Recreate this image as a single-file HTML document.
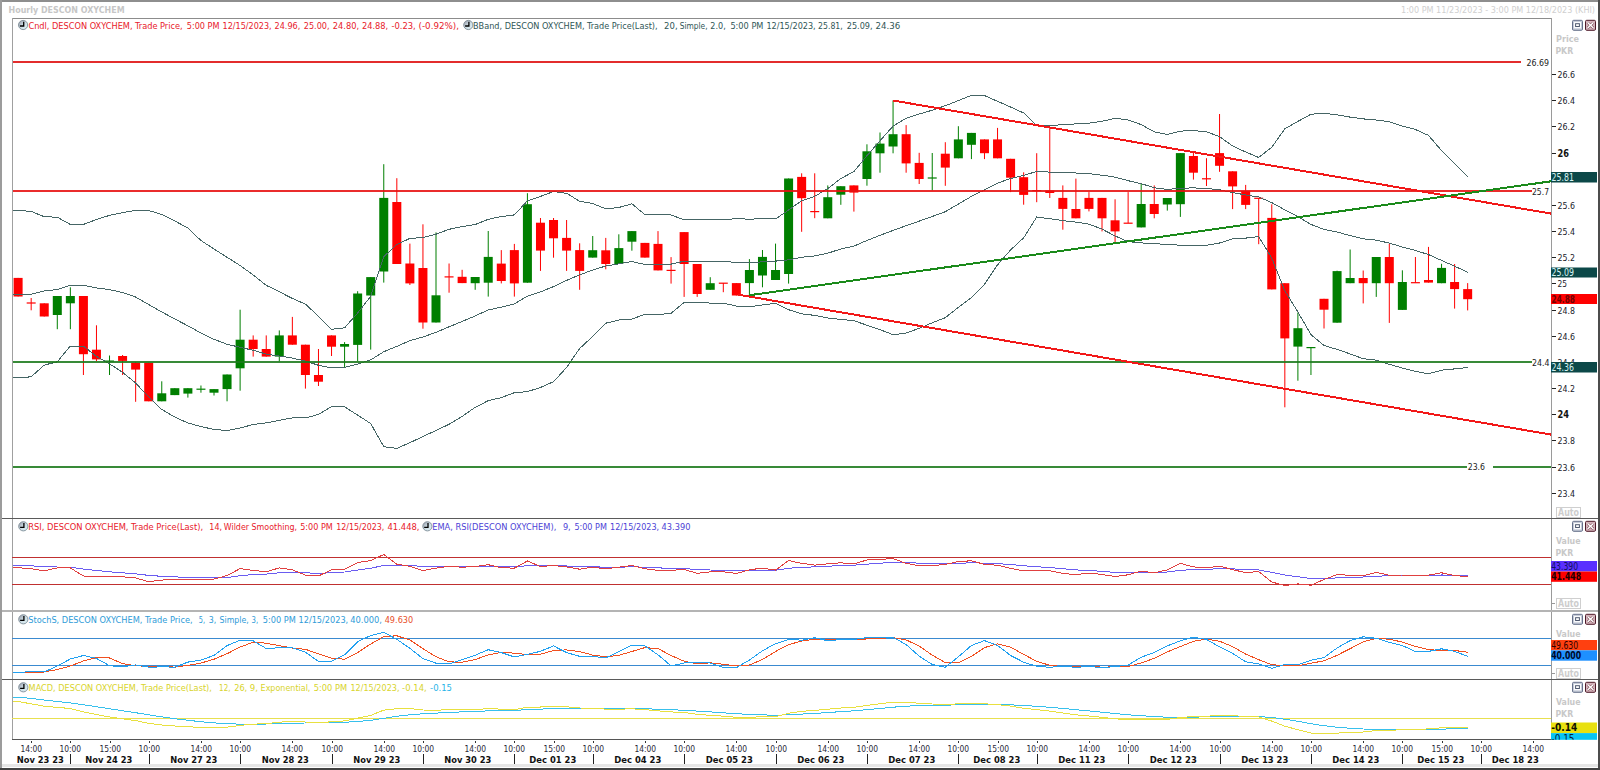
<!DOCTYPE html><html><head><meta charset="utf-8"><title>Hourly DESCON OXYCHEM</title>
<style>html,body{margin:0;padding:0;background:#fff;width:1600px;height:770px;overflow:hidden}svg{display:block}text{font-stretch:condensed;font-family:'DejaVu Sans Condensed', 'DejaVu Sans', 'Liberation Sans', sans-serif;white-space:pre}</style></head><body>
<svg width="1600" height="770" viewBox="0 0 1600 770">
<defs><linearGradient id="clk" x1="0" y1="0" x2="1" y2="1"><stop offset="0" stop-color="#8e8e9c"/><stop offset="0.45" stop-color="#c8d8e0"/><stop offset="1" stop-color="#e4f8fc"/></linearGradient><clipPath id="plot"><rect x="13" y="19" width="1538" height="499"/></clipPath><clipPath id="rsi"><rect x="13" y="519" width="1538" height="92"/></clipPath><clipPath id="sto"><rect x="13" y="612" width="1538" height="67"/></clipPath><clipPath id="mac"><rect x="13" y="680" width="1538" height="59"/></clipPath></defs>
<rect x="0" y="0" width="1600" height="770" fill="#fff"/>
<text x="8.6" y="13.4" font-size="9.2" fill="#c6c6c6" font-weight="bold" text-anchor="start" textLength="116" lengthAdjust="spacingAndGlyphs">Hourly DESCON OXYCHEM</text>
<text x="1401" y="13.4" font-size="8.9" fill="#cfcfcf" text-anchor="start" textLength="194" lengthAdjust="spacingAndGlyphs">1:00 PM 11/23/2023 - 3:00 PM 12/18/2023 (KHI)</text>
<g shape-rendering="crispEdges">
<rect x="12" y="18" width="1539" height="1" fill="#8c8c8c"/>
<rect x="12" y="18" width="1" height="722" fill="#a0a0a0"/>
<rect x="1551" y="18" width="1" height="722" fill="#9a9a9a"/>
<rect x="2" y="518" width="1596" height="1" fill="#5a5a5a"/>
<rect x="2" y="679" width="1596" height="1" fill="#5a5a5a"/>
<rect x="2" y="610" width="1596" height="2" fill="#b4b4b4"/>
<rect x="12" y="739" width="1540" height="1" fill="#555"/>
</g>
<g clip-path="url(#plot)">
<g>
<rect x="17.61" y="277.9" width="1" height="18.6" fill="#ff0000"/>
<rect x="13.61" y="277.9" width="9" height="18.6" fill="#ff0000"/>
<rect x="30.67" y="298.0" width="1" height="12.3" fill="#ff0000"/>
<rect x="26.67" y="302.4" width="9" height="1.2" fill="#ff0000"/>
<rect x="43.73" y="303.3" width="1" height="13.2" fill="#ff0000"/>
<rect x="39.73" y="303.3" width="9" height="13.2" fill="#ff0000"/>
<rect x="56.79" y="296.0" width="1" height="33.2" fill="#007f00"/>
<rect x="52.79" y="296.0" width="9" height="19.0" fill="#007f00"/>
<rect x="69.85" y="287.3" width="1" height="41.9" fill="#007f00"/>
<rect x="65.85" y="296.0" width="9" height="7.3" fill="#007f00"/>
<rect x="82.91" y="296.0" width="1" height="79.0" fill="#ff0000"/>
<rect x="78.91" y="296.0" width="9" height="58.2" fill="#ff0000"/>
<rect x="95.96" y="325.3" width="1" height="35.7" fill="#ff0000"/>
<rect x="91.96" y="349.7" width="9" height="9.7" fill="#ff0000"/>
<rect x="109.02" y="355.5" width="1" height="19.5" fill="#007f00"/>
<rect x="105.02" y="360.5" width="9" height="1.2" fill="#007f00"/>
<rect x="122.08" y="355.0" width="1" height="20.0" fill="#ff0000"/>
<rect x="118.08" y="356.0" width="9" height="4.9" fill="#ff0000"/>
<rect x="135.14" y="362.0" width="1" height="39.8" fill="#ff0000"/>
<rect x="131.14" y="362.7" width="9" height="6.9" fill="#ff0000"/>
<rect x="148.20" y="362.7" width="1" height="38.6" fill="#ff0000"/>
<rect x="144.20" y="362.7" width="9" height="38.6" fill="#ff0000"/>
<rect x="161.26" y="381.3" width="1" height="20.0" fill="#007f00"/>
<rect x="157.26" y="393.3" width="9" height="8.0" fill="#007f00"/>
<rect x="174.32" y="388.2" width="1" height="6.9" fill="#007f00"/>
<rect x="170.32" y="388.2" width="9" height="6.9" fill="#007f00"/>
<rect x="187.38" y="388.2" width="1" height="9.4" fill="#007f00"/>
<rect x="183.38" y="388.2" width="9" height="5.4" fill="#007f00"/>
<rect x="200.44" y="385.5" width="1" height="7.2" fill="#007f00"/>
<rect x="196.44" y="388.6" width="9" height="1.2" fill="#007f00"/>
<rect x="213.50" y="389.1" width="1" height="6.4" fill="#007f00"/>
<rect x="209.50" y="389.1" width="9" height="3.6" fill="#007f00"/>
<rect x="226.55" y="374.5" width="1" height="26.8" fill="#007f00"/>
<rect x="222.55" y="374.5" width="9" height="14.6" fill="#007f00"/>
<rect x="239.61" y="309.7" width="1" height="81.0" fill="#007f00"/>
<rect x="235.61" y="339.7" width="9" height="28.6" fill="#007f00"/>
<rect x="252.67" y="335.4" width="1" height="21.2" fill="#ff0000"/>
<rect x="248.67" y="339.7" width="9" height="9.3" fill="#ff0000"/>
<rect x="265.73" y="335.4" width="1" height="21.2" fill="#ff0000"/>
<rect x="261.73" y="349.0" width="9" height="7.6" fill="#ff0000"/>
<rect x="278.79" y="330.4" width="1" height="31.0" fill="#007f00"/>
<rect x="274.79" y="335.4" width="9" height="21.2" fill="#007f00"/>
<rect x="291.85" y="316.9" width="1" height="27.8" fill="#ff0000"/>
<rect x="287.85" y="335.4" width="9" height="9.3" fill="#ff0000"/>
<rect x="304.91" y="344.7" width="1" height="43.9" fill="#ff0000"/>
<rect x="300.91" y="344.7" width="9" height="30.3" fill="#ff0000"/>
<rect x="317.97" y="349.0" width="1" height="37.0" fill="#ff0000"/>
<rect x="313.97" y="375.0" width="9" height="6.7" fill="#ff0000"/>
<rect x="331.03" y="335.4" width="1" height="20.6" fill="#ff0000"/>
<rect x="327.03" y="335.4" width="9" height="11.3" fill="#ff0000"/>
<rect x="344.08" y="342.1" width="1" height="25.8" fill="#007f00"/>
<rect x="340.08" y="344.0" width="9" height="2.7" fill="#007f00"/>
<rect x="357.14" y="291.2" width="1" height="70.0" fill="#007f00"/>
<rect x="353.14" y="293.5" width="9" height="51.4" fill="#007f00"/>
<rect x="370.20" y="277.1" width="1" height="72.5" fill="#007f00"/>
<rect x="366.20" y="277.1" width="9" height="18.4" fill="#007f00"/>
<rect x="383.26" y="164.2" width="1" height="118.4" fill="#007f00"/>
<rect x="379.26" y="197.9" width="9" height="73.6" fill="#007f00"/>
<rect x="396.32" y="178.2" width="1" height="85.8" fill="#ff0000"/>
<rect x="392.32" y="202.0" width="9" height="62.0" fill="#ff0000"/>
<rect x="409.38" y="243.6" width="1" height="41.4" fill="#ff0000"/>
<rect x="405.38" y="263.5" width="9" height="19.9" fill="#ff0000"/>
<rect x="422.44" y="224.3" width="1" height="104.4" fill="#ff0000"/>
<rect x="418.44" y="268.0" width="9" height="54.5" fill="#ff0000"/>
<rect x="435.50" y="232.4" width="1" height="90.1" fill="#007f00"/>
<rect x="431.50" y="295.3" width="9" height="27.2" fill="#007f00"/>
<rect x="448.56" y="263.5" width="1" height="29.2" fill="#ff0000"/>
<rect x="444.56" y="276.3" width="9" height="1.2" fill="#ff0000"/>
<rect x="461.62" y="269.8" width="1" height="13.3" fill="#ff0000"/>
<rect x="457.62" y="276.8" width="9" height="6.3" fill="#ff0000"/>
<rect x="474.68" y="277.0" width="1" height="12.8" fill="#007f00"/>
<rect x="470.68" y="277.0" width="9" height="6.2" fill="#007f00"/>
<rect x="487.73" y="231.0" width="1" height="65.6" fill="#007f00"/>
<rect x="483.73" y="256.9" width="9" height="25.8" fill="#007f00"/>
<rect x="500.79" y="250.1" width="1" height="33.3" fill="#ff0000"/>
<rect x="496.79" y="263.6" width="9" height="17.4" fill="#ff0000"/>
<rect x="513.85" y="243.9" width="1" height="52.7" fill="#ff0000"/>
<rect x="509.85" y="250.1" width="9" height="33.3" fill="#ff0000"/>
<rect x="526.91" y="193.2" width="1" height="89.5" fill="#007f00"/>
<rect x="522.91" y="204.2" width="9" height="78.5" fill="#007f00"/>
<rect x="539.97" y="218.0" width="1" height="52.9" fill="#ff0000"/>
<rect x="535.97" y="222.7" width="9" height="27.9" fill="#ff0000"/>
<rect x="553.03" y="218.0" width="1" height="39.7" fill="#ff0000"/>
<rect x="549.03" y="220.0" width="9" height="18.3" fill="#ff0000"/>
<rect x="566.09" y="220.0" width="1" height="50.9" fill="#ff0000"/>
<rect x="562.09" y="237.9" width="9" height="12.7" fill="#ff0000"/>
<rect x="579.15" y="243.3" width="1" height="46.5" fill="#ff0000"/>
<rect x="575.15" y="250.1" width="9" height="20.8" fill="#ff0000"/>
<rect x="592.21" y="236.0" width="1" height="21.6" fill="#007f00"/>
<rect x="588.21" y="250.2" width="9" height="7.4" fill="#007f00"/>
<rect x="605.26" y="237.9" width="1" height="31.4" fill="#ff0000"/>
<rect x="601.26" y="250.3" width="9" height="13.7" fill="#ff0000"/>
<rect x="618.32" y="234.3" width="1" height="29.7" fill="#007f00"/>
<rect x="614.32" y="248.1" width="9" height="15.9" fill="#007f00"/>
<rect x="631.38" y="231.1" width="1" height="19.6" fill="#007f00"/>
<rect x="627.38" y="231.1" width="9" height="10.6" fill="#007f00"/>
<rect x="644.44" y="242.9" width="1" height="14.7" fill="#ff0000"/>
<rect x="640.44" y="242.9" width="9" height="14.7" fill="#ff0000"/>
<rect x="657.50" y="231.1" width="1" height="39.3" fill="#ff0000"/>
<rect x="653.50" y="243.9" width="9" height="26.5" fill="#ff0000"/>
<rect x="670.56" y="257.1" width="1" height="26.5" fill="#ff0000"/>
<rect x="666.56" y="269.8" width="9" height="1.2" fill="#ff0000"/>
<rect x="683.62" y="232.1" width="1" height="64.8" fill="#ff0000"/>
<rect x="679.62" y="232.1" width="9" height="31.9" fill="#ff0000"/>
<rect x="696.68" y="264.0" width="1" height="32.9" fill="#ff0000"/>
<rect x="692.68" y="264.0" width="9" height="30.0" fill="#ff0000"/>
<rect x="709.74" y="277.2" width="1" height="12.6" fill="#007f00"/>
<rect x="705.74" y="283.2" width="9" height="6.6" fill="#007f00"/>
<rect x="722.80" y="283.1" width="1" height="9.1" fill="#ff0000"/>
<rect x="718.80" y="282.6" width="9" height="1.2" fill="#ff0000"/>
<rect x="735.86" y="283.1" width="1" height="12.4" fill="#ff0000"/>
<rect x="731.86" y="283.1" width="9" height="12.4" fill="#ff0000"/>
<rect x="748.91" y="259.1" width="1" height="36.4" fill="#007f00"/>
<rect x="744.91" y="270.0" width="9" height="13.1" fill="#007f00"/>
<rect x="761.97" y="250.0" width="1" height="37.3" fill="#007f00"/>
<rect x="757.97" y="256.9" width="9" height="18.6" fill="#007f00"/>
<rect x="775.03" y="243.6" width="1" height="36.4" fill="#007f00"/>
<rect x="771.03" y="270.0" width="9" height="10.0" fill="#007f00"/>
<rect x="788.09" y="178.5" width="1" height="105.1" fill="#007f00"/>
<rect x="784.09" y="178.5" width="9" height="95.5" fill="#007f00"/>
<rect x="801.15" y="173.3" width="1" height="58.5" fill="#ff0000"/>
<rect x="797.15" y="176.9" width="9" height="21.3" fill="#ff0000"/>
<rect x="814.21" y="173.3" width="1" height="44.9" fill="#ff0000"/>
<rect x="810.21" y="211.0" width="9" height="1.2" fill="#ff0000"/>
<rect x="827.27" y="185.4" width="1" height="32.9" fill="#007f00"/>
<rect x="823.27" y="197.2" width="9" height="21.1" fill="#007f00"/>
<rect x="840.33" y="186.2" width="1" height="18.6" fill="#007f00"/>
<rect x="836.33" y="186.2" width="9" height="8.5" fill="#007f00"/>
<rect x="853.39" y="185.4" width="1" height="26.2" fill="#ff0000"/>
<rect x="849.39" y="185.4" width="9" height="7.2" fill="#ff0000"/>
<rect x="866.44" y="144.3" width="1" height="41.4" fill="#007f00"/>
<rect x="862.44" y="151.3" width="9" height="27.7" fill="#007f00"/>
<rect x="879.50" y="132.5" width="1" height="40.2" fill="#007f00"/>
<rect x="875.50" y="143.6" width="9" height="9.7" fill="#007f00"/>
<rect x="892.56" y="100.4" width="1" height="52.9" fill="#007f00"/>
<rect x="888.56" y="134.2" width="9" height="12.3" fill="#007f00"/>
<rect x="905.62" y="125.1" width="1" height="47.6" fill="#ff0000"/>
<rect x="901.62" y="134.2" width="9" height="29.2" fill="#ff0000"/>
<rect x="918.68" y="152.8" width="1" height="31.2" fill="#ff0000"/>
<rect x="914.68" y="162.9" width="9" height="16.1" fill="#ff0000"/>
<rect x="931.74" y="153.0" width="1" height="37.4" fill="#007f00"/>
<rect x="927.74" y="177.4" width="9" height="1.2" fill="#007f00"/>
<rect x="944.80" y="142.2" width="1" height="43.6" fill="#ff0000"/>
<rect x="940.80" y="153.7" width="9" height="13.9" fill="#ff0000"/>
<rect x="957.86" y="126.2" width="1" height="32.1" fill="#007f00"/>
<rect x="953.86" y="139.4" width="9" height="18.9" fill="#007f00"/>
<rect x="970.92" y="132.9" width="1" height="26.2" fill="#007f00"/>
<rect x="966.92" y="132.9" width="9" height="11.9" fill="#007f00"/>
<rect x="983.98" y="139.4" width="1" height="19.7" fill="#ff0000"/>
<rect x="979.98" y="139.4" width="9" height="13.8" fill="#ff0000"/>
<rect x="997.03" y="127.9" width="1" height="30.4" fill="#ff0000"/>
<rect x="993.03" y="139.4" width="9" height="18.9" fill="#ff0000"/>
<rect x="1010.09" y="158.8" width="1" height="33.3" fill="#ff0000"/>
<rect x="1006.09" y="158.8" width="9" height="18.9" fill="#ff0000"/>
<rect x="1023.15" y="172.3" width="1" height="32.4" fill="#ff0000"/>
<rect x="1019.15" y="177.2" width="9" height="17.7" fill="#ff0000"/>
<rect x="1036.21" y="153.2" width="1" height="49.0" fill="#ff0000"/>
<rect x="1032.21" y="190.0" width="9" height="1.2" fill="#ff0000"/>
<rect x="1049.27" y="127.9" width="1" height="70.1" fill="#ff0000"/>
<rect x="1045.27" y="190.5" width="9" height="2.5" fill="#ff0000"/>
<rect x="1062.33" y="185.4" width="1" height="44.3" fill="#ff0000"/>
<rect x="1058.33" y="197.9" width="9" height="11.0" fill="#ff0000"/>
<rect x="1075.39" y="178.6" width="1" height="39.7" fill="#ff0000"/>
<rect x="1071.39" y="209.0" width="9" height="9.3" fill="#ff0000"/>
<rect x="1088.45" y="192.1" width="1" height="19.3" fill="#ff0000"/>
<rect x="1084.45" y="197.9" width="9" height="11.0" fill="#ff0000"/>
<rect x="1101.51" y="197.9" width="1" height="33.5" fill="#ff0000"/>
<rect x="1097.51" y="197.9" width="9" height="20.4" fill="#ff0000"/>
<rect x="1114.57" y="199.3" width="1" height="43.6" fill="#ff0000"/>
<rect x="1110.57" y="220.3" width="9" height="11.1" fill="#ff0000"/>
<rect x="1127.62" y="192.1" width="1" height="31.0" fill="#ff0000"/>
<rect x="1123.62" y="222.6" width="9" height="1.2" fill="#ff0000"/>
<rect x="1140.68" y="183.6" width="1" height="43.8" fill="#007f00"/>
<rect x="1136.68" y="204.0" width="9" height="23.4" fill="#007f00"/>
<rect x="1153.74" y="185.4" width="1" height="32.9" fill="#ff0000"/>
<rect x="1149.74" y="204.0" width="9" height="10.0" fill="#ff0000"/>
<rect x="1166.80" y="198.0" width="1" height="12.6" fill="#007f00"/>
<rect x="1162.80" y="198.0" width="9" height="6.5" fill="#007f00"/>
<rect x="1179.86" y="153.1" width="1" height="63.8" fill="#007f00"/>
<rect x="1175.86" y="153.1" width="9" height="51.1" fill="#007f00"/>
<rect x="1192.92" y="152.7" width="1" height="26.9" fill="#ff0000"/>
<rect x="1188.92" y="156.0" width="9" height="16.7" fill="#ff0000"/>
<rect x="1205.98" y="158.2" width="1" height="27.8" fill="#ff0000"/>
<rect x="1201.98" y="178.2" width="9" height="1.2" fill="#ff0000"/>
<rect x="1219.04" y="114.0" width="1" height="57.8" fill="#ff0000"/>
<rect x="1215.04" y="153.1" width="9" height="12.7" fill="#ff0000"/>
<rect x="1232.10" y="171.3" width="1" height="37.8" fill="#ff0000"/>
<rect x="1228.10" y="171.3" width="9" height="15.1" fill="#ff0000"/>
<rect x="1245.16" y="184.9" width="1" height="24.2" fill="#ff0000"/>
<rect x="1241.16" y="190.9" width="9" height="14.0" fill="#ff0000"/>
<rect x="1258.21" y="198.2" width="1" height="46.0" fill="#ff0000"/>
<rect x="1254.21" y="197.7" width="9" height="1.2" fill="#ff0000"/>
<rect x="1271.27" y="204.3" width="1" height="85.1" fill="#ff0000"/>
<rect x="1267.27" y="217.9" width="9" height="71.5" fill="#ff0000"/>
<rect x="1284.33" y="283.2" width="1" height="124.1" fill="#ff0000"/>
<rect x="1280.33" y="283.2" width="9" height="55.2" fill="#ff0000"/>
<rect x="1297.39" y="312.5" width="1" height="68.2" fill="#007f00"/>
<rect x="1293.39" y="328.2" width="9" height="18.4" fill="#007f00"/>
<rect x="1310.45" y="347.5" width="1" height="27.5" fill="#007f00"/>
<rect x="1306.45" y="347.0" width="9" height="1.2" fill="#007f00"/>
<rect x="1323.51" y="298.8" width="1" height="29.7" fill="#ff0000"/>
<rect x="1319.51" y="298.8" width="9" height="10.9" fill="#ff0000"/>
<rect x="1336.57" y="270.7" width="1" height="52.0" fill="#007f00"/>
<rect x="1332.57" y="271.1" width="9" height="51.6" fill="#007f00"/>
<rect x="1349.63" y="249.5" width="1" height="33.7" fill="#007f00"/>
<rect x="1345.63" y="278.0" width="9" height="5.2" fill="#007f00"/>
<rect x="1362.69" y="270.5" width="1" height="32.9" fill="#ff0000"/>
<rect x="1358.69" y="278.0" width="9" height="5.2" fill="#ff0000"/>
<rect x="1375.75" y="257.0" width="1" height="39.9" fill="#007f00"/>
<rect x="1371.75" y="257.0" width="9" height="26.2" fill="#007f00"/>
<rect x="1388.80" y="243.6" width="1" height="79.3" fill="#ff0000"/>
<rect x="1384.80" y="257.0" width="9" height="26.2" fill="#ff0000"/>
<rect x="1401.86" y="270.3" width="1" height="39.6" fill="#007f00"/>
<rect x="1397.86" y="282.0" width="9" height="27.9" fill="#007f00"/>
<rect x="1414.92" y="257.0" width="1" height="25.6" fill="#ff0000"/>
<rect x="1410.92" y="282.1" width="9" height="1.2" fill="#ff0000"/>
<rect x="1427.98" y="246.9" width="1" height="35.7" fill="#ff0000"/>
<rect x="1423.98" y="280.0" width="9" height="2.6" fill="#ff0000"/>
<rect x="1441.04" y="263.8" width="1" height="19.4" fill="#007f00"/>
<rect x="1437.04" y="267.9" width="9" height="15.3" fill="#007f00"/>
<rect x="1454.10" y="264.0" width="1" height="44.6" fill="#ff0000"/>
<rect x="1450.10" y="282.0" width="9" height="7.1" fill="#ff0000"/>
<rect x="1467.16" y="283.1" width="1" height="27.3" fill="#ff0000"/>
<rect x="1463.16" y="289.1" width="9" height="10.1" fill="#ff0000"/>
</g>
<g><polyline points="12.0,210.4 18.1,210.4 31.2,211.4 44.2,216.7 57.3,217.2 70.3,224.4 83.4,224.4 96.5,219.5 109.5,215.4 122.6,212.6 135.6,210.3 148.7,210.5 161.8,214.5 174.8,221.0 187.9,228.0 200.9,240.5 214.0,249.0 227.1,257.3 240.1,265.5 253.2,275.0 266.2,285.3 279.3,291.8 292.3,298.4 305.4,304.1 318.5,316.3 331.5,329.3 344.6,327.8 357.6,313.1 370.7,296.3 383.8,256.7 396.8,244.5 409.9,238.4 422.9,237.5 436.0,234.2 449.1,229.3 462.1,226.6 475.2,224.5 488.2,219.3 501.3,216.6 514.4,214.9 527.4,200.8 540.5,196.4 553.5,191.5 566.6,193.3 579.6,201.2 592.7,203.5 605.8,208.8 618.8,207.5 631.9,203.8 644.9,214.7 658.0,214.9 671.1,214.9 684.1,219.9 697.2,220.0 710.2,219.8 723.3,219.8 736.4,218.6 749.4,219.2 762.5,218.7 775.5,219.0 788.6,210.0 801.6,200.7 814.7,196.4 827.8,188.5 840.8,178.6 853.9,171.5 866.9,155.8 880.0,140.8 893.1,126.1 906.1,118.3 919.2,114.0 932.2,110.2 945.3,105.7 958.4,100.6 971.4,95.4 984.5,95.6 997.5,101.3 1010.6,107.0 1023.7,113.0 1036.7,125.8 1049.8,125.6 1062.8,124.7 1075.9,123.9 1088.9,123.1 1102.0,121.3 1115.1,118.3 1128.1,119.9 1141.2,124.6 1154.2,131.8 1167.3,134.5 1180.4,131.1 1193.4,130.6 1206.5,131.8 1219.5,136.6 1232.6,146.0 1245.7,152.0 1258.7,157.5 1271.8,147.2 1284.8,128.9 1297.9,121.4 1311.0,114.2 1324.0,113.4 1337.1,114.8 1350.1,117.1 1363.2,118.9 1376.2,120.0 1389.3,121.8 1402.4,126.0 1415.4,129.5 1428.5,135.4 1441.5,150.6 1454.6,163.5 1467.7,176.9" fill="none" stroke="#456565" stroke-width="1" shape-rendering="crispEdges"/><polyline points="12.0,294.1 18.1,294.1 31.2,294.1 44.2,290.9 57.3,289.5 70.3,285.2 83.4,285.2 96.5,288.0 109.5,289.6 122.6,292.5 135.6,297.0 148.7,304.5 161.8,312.0 174.8,319.0 187.9,325.8 200.9,333.0 214.0,339.3 227.1,344.3 240.1,347.3 253.2,350.3 266.2,354.1 279.3,356.0 292.3,358.1 305.4,361.1 318.5,365.3 331.5,367.9 344.6,367.4 357.6,364.1 370.7,359.9 383.8,351.7 396.8,346.4 409.9,340.6 422.9,337.0 436.0,332.4 449.1,326.8 462.1,321.5 475.2,315.9 488.2,310.0 501.3,307.1 514.4,303.8 527.4,296.2 540.5,291.9 553.5,286.6 566.6,280.4 579.6,274.9 592.7,270.0 605.8,266.0 618.8,263.8 631.9,261.5 644.9,264.5 658.0,264.8 671.1,264.1 684.1,261.2 697.2,261.1 710.2,261.4 723.3,261.4 736.4,262.4 749.4,263.0 762.5,261.8 775.5,261.1 788.6,259.9 801.6,257.2 814.7,255.9 827.8,253.2 840.8,249.0 853.9,246.1 866.9,240.5 880.0,235.3 893.1,230.4 906.1,225.7 919.2,221.1 932.2,216.5 945.3,211.7 958.4,204.0 971.4,196.4 984.5,190.0 997.5,183.1 1010.6,178.5 1023.7,175.4 1036.7,171.4 1049.8,172.1 1062.8,172.7 1075.9,173.0 1088.9,173.6 1102.0,175.2 1115.1,177.1 1128.1,180.7 1141.2,183.7 1154.2,187.7 1167.3,189.5 1180.4,188.2 1193.4,187.9 1206.5,188.5 1219.5,189.8 1232.6,192.5 1245.7,195.0 1258.7,197.0 1271.8,202.6 1284.8,209.8 1297.9,216.7 1311.0,224.4 1324.0,229.4 1337.1,232.1 1350.1,235.5 1363.2,238.8 1376.2,240.1 1389.3,243.1 1402.4,247.0 1415.4,250.4 1428.5,254.6 1441.5,260.4 1454.6,266.2 1467.7,272.2" fill="none" stroke="#456565" stroke-width="1" shape-rendering="crispEdges"/><polyline points="12.0,377.8 18.1,377.8 31.2,376.8 44.2,365.1 57.3,361.8 70.3,346.0 83.4,346.0 96.5,356.5 109.5,363.8 122.6,372.4 135.6,383.0 148.7,397.0 161.8,409.5 174.8,417.0 187.9,423.0 200.9,426.5 214.0,429.5 227.1,430.5 240.1,428.0 253.2,424.5 266.2,422.9 279.3,420.3 292.3,417.9 305.4,418.0 318.5,414.4 331.5,406.5 344.6,406.9 357.6,415.1 370.7,423.5 383.8,446.7 396.8,448.4 409.9,442.7 422.9,436.5 436.0,430.5 449.1,424.3 462.1,416.4 475.2,407.3 488.2,400.7 501.3,397.6 514.4,392.7 527.4,391.6 540.5,387.5 553.5,381.7 566.6,367.5 579.6,348.5 592.7,336.5 605.8,323.2 618.8,320.0 631.9,319.1 644.9,314.2 658.0,314.6 671.1,313.3 684.1,302.5 697.2,302.2 710.2,303.1 723.3,303.1 736.4,306.1 749.4,306.8 762.5,304.9 775.5,303.3 788.6,309.7 801.6,313.8 814.7,315.4 827.8,318.0 840.8,319.4 853.9,320.7 866.9,325.2 880.0,329.7 893.1,334.7 906.1,333.1 919.2,328.3 932.2,322.8 945.3,317.7 958.4,307.3 971.4,297.5 984.5,284.4 997.5,264.9 1010.6,249.9 1023.7,237.8 1036.7,217.0 1049.8,218.7 1062.8,220.6 1075.9,222.1 1088.9,224.1 1102.0,229.1 1115.1,236.0 1128.1,241.6 1141.2,242.9 1154.2,243.7 1167.3,244.4 1180.4,245.2 1193.4,245.2 1206.5,245.2 1219.5,243.0 1232.6,238.9 1245.7,238.1 1258.7,236.6 1271.8,258.1 1284.8,290.7 1297.9,312.0 1311.0,334.7 1324.0,345.5 1337.1,349.4 1350.1,353.9 1363.2,358.7 1376.2,360.2 1389.3,364.3 1402.4,368.0 1415.4,371.3 1428.5,373.8 1441.5,370.2 1454.6,368.9 1467.7,367.5" fill="none" stroke="#456565" stroke-width="1" shape-rendering="crispEdges"/></g>
<g shape-rendering="crispEdges" opacity="0.88">
<rect x="12" y="60.5" width="1509" height="2" fill="#e01010"/>
<rect x="12" y="190" width="1520" height="2" fill="#e81010"/>
<rect x="12" y="361" width="1520" height="2" fill="#1d7a1d"/>
<rect x="12" y="465.5" width="1455" height="2" fill="#1d7a1d"/>
<rect x="1493" y="465.5" width="58" height="2" fill="#1d7a1d"/>
</g>
<g shape-rendering="crispEdges">
<line x1="893" y1="100.5" x2="1551" y2="213.6" stroke="#f21818" stroke-width="2"/>
<line x1="738" y1="294.6" x2="1551" y2="434.6" stroke="#f21818" stroke-width="2"/>
<line x1="749" y1="295.3" x2="1551" y2="181.3" stroke="#1a8a1a" stroke-width="2"/>
</g>
</g>
<text x="1526.5" y="65.6" font-size="9.5" fill="#1a1a1a" text-anchor="start" textLength="22.5" lengthAdjust="spacingAndGlyphs">26.69</text>
<text x="1532" y="195" font-size="9.5" fill="#1a1a1a" text-anchor="start" textLength="17" lengthAdjust="spacingAndGlyphs">25.7</text>
<text x="1532" y="365.8" font-size="9.5" fill="#1a1a1a" text-anchor="start" textLength="17.5" lengthAdjust="spacingAndGlyphs">24.4</text>
<text x="1467.7" y="470.2" font-size="9.5" fill="#1a1a1a" text-anchor="start" textLength="17.3" lengthAdjust="spacingAndGlyphs">23.6</text>
<g><circle cx="23.099999999999998" cy="25" r="4.6" fill="url(#clk)" stroke="#7d8c96" stroke-width="0.9"/><path d="M23.7 21.8V26H19.9" stroke="#000" stroke-width="1.3" fill="none"/></g>
<text x="28.4" y="28.8" font-size="9.4" fill="#e8202a" text-anchor="start" textLength="154.3" lengthAdjust="spacingAndGlyphs">Cndl, DESCON OXYCHEM, Trade Price,</text>
<text x="186.8" y="28.8" font-size="9.4" fill="#e8202a" text-anchor="start" textLength="32.7" lengthAdjust="spacingAndGlyphs">5:00 PM</text>
<text x="222.6" y="28.8" font-size="9.4" fill="#e8202a" text-anchor="start" textLength="49.0" lengthAdjust="spacingAndGlyphs">12/15/2023,</text>
<text x="274.6" y="28.8" font-size="9.4" fill="#e8202a" text-anchor="start" textLength="25.7" lengthAdjust="spacingAndGlyphs">24.96,</text>
<text x="303.8" y="28.8" font-size="9.4" fill="#e8202a" text-anchor="start" textLength="25.8" lengthAdjust="spacingAndGlyphs">25.00,</text>
<text x="332.8" y="28.8" font-size="9.4" fill="#e8202a" text-anchor="start" textLength="26.3" lengthAdjust="spacingAndGlyphs">24.80,</text>
<text x="361.9" y="28.8" font-size="9.4" fill="#e8202a" text-anchor="start" textLength="26.3" lengthAdjust="spacingAndGlyphs">24.88,</text>
<text x="391.4" y="28.8" font-size="9.4" fill="#e8202a" text-anchor="start" textLength="24.4" lengthAdjust="spacingAndGlyphs">-0.23,</text>
<text x="418.6" y="28.8" font-size="9.4" fill="#e8202a" text-anchor="start" textLength="40.3" lengthAdjust="spacingAndGlyphs">(-0.92%),</text>
<g><circle cx="468.29999999999995" cy="25" r="4.6" fill="url(#clk)" stroke="#7d8c96" stroke-width="0.9"/><path d="M468.9 21.8V26H465.09999999999997" stroke="#000" stroke-width="1.3" fill="none"/></g>
<text x="473.0" y="28.8" font-size="9.4" fill="#2f5656" text-anchor="start" textLength="184.6" lengthAdjust="spacingAndGlyphs">BBand, DESCON OXYCHEM, Trade Price(Last),</text>
<text x="664.1" y="28.8" font-size="9.4" fill="#2f5656" text-anchor="start" textLength="13.5" lengthAdjust="spacingAndGlyphs">20,</text>
<text x="679.7" y="28.8" font-size="9.4" fill="#2f5656" text-anchor="start" textLength="27.9" lengthAdjust="spacingAndGlyphs">Simple,</text>
<text x="710.3" y="28.8" font-size="9.4" fill="#2f5656" text-anchor="start" textLength="15.4" lengthAdjust="spacingAndGlyphs">2.0,</text>
<text x="730.4" y="28.8" font-size="9.4" fill="#2f5656" text-anchor="start" textLength="33.0" lengthAdjust="spacingAndGlyphs">5:00 PM</text>
<text x="766.4" y="28.8" font-size="9.4" fill="#2f5656" text-anchor="start" textLength="49.3" lengthAdjust="spacingAndGlyphs">12/15/2023,</text>
<text x="818.1" y="28.8" font-size="9.4" fill="#2f5656" text-anchor="start" textLength="24.6" lengthAdjust="spacingAndGlyphs">25.81,</text>
<text x="846.8" y="28.8" font-size="9.4" fill="#2f5656" text-anchor="start" textLength="25.8" lengthAdjust="spacingAndGlyphs">25.09,</text>
<text x="875.5" y="28.8" font-size="9.4" fill="#2f5656" text-anchor="start" textLength="24.7" lengthAdjust="spacingAndGlyphs">24.36</text>
<g shape-rendering="crispEdges">
<rect x="1552" y="74" width="4" height="1" fill="#222"/>
<rect x="1552" y="100" width="4" height="1" fill="#222"/>
<rect x="1552" y="126" width="4" height="1" fill="#222"/>
<rect x="1552" y="153" width="4" height="1" fill="#222"/>
<rect x="1552" y="179" width="4" height="1" fill="#222"/>
<rect x="1552" y="205" width="4" height="1" fill="#222"/>
<rect x="1552" y="231" width="4" height="1" fill="#222"/>
<rect x="1552" y="257" width="4" height="1" fill="#222"/>
<rect x="1552" y="283" width="4" height="1" fill="#222"/>
<rect x="1552" y="310" width="4" height="1" fill="#222"/>
<rect x="1552" y="336" width="4" height="1" fill="#222"/>
<rect x="1552" y="362" width="4" height="1" fill="#222"/>
<rect x="1552" y="388" width="4" height="1" fill="#222"/>
<rect x="1552" y="414" width="4" height="1" fill="#222"/>
<rect x="1552" y="440" width="4" height="1" fill="#222"/>
<rect x="1552" y="467" width="4" height="1" fill="#222"/>
<rect x="1552" y="493" width="4" height="1" fill="#222"/>
</g>
<text x="1557.5" y="78" font-size="9.5" fill="#1a1a2a" text-anchor="start" textLength="17.5" lengthAdjust="spacingAndGlyphs">26.6</text>
<text x="1557.5" y="104" font-size="9.5" fill="#1a1a2a" text-anchor="start" textLength="17.5" lengthAdjust="spacingAndGlyphs">26.4</text>
<text x="1557.5" y="130" font-size="9.5" fill="#1a1a2a" text-anchor="start" textLength="17.5" lengthAdjust="spacingAndGlyphs">26.2</text>
<text x="1557.5" y="157.3" font-size="10" fill="#111" font-weight="bold" text-anchor="start" textLength="11.5" lengthAdjust="spacingAndGlyphs">26</text>
<text x="1557.5" y="209" font-size="9.5" fill="#1a1a2a" text-anchor="start" textLength="17.5" lengthAdjust="spacingAndGlyphs">25.6</text>
<text x="1557.5" y="235" font-size="9.5" fill="#1a1a2a" text-anchor="start" textLength="17.5" lengthAdjust="spacingAndGlyphs">25.4</text>
<text x="1557.5" y="261" font-size="9.5" fill="#1a1a2a" text-anchor="start" textLength="17.5" lengthAdjust="spacingAndGlyphs">25.2</text>
<text x="1557.5" y="287" font-size="9.5" fill="#1a1a2a" text-anchor="start" textLength="9.5" lengthAdjust="spacingAndGlyphs">25</text>
<text x="1557.5" y="314" font-size="9.5" fill="#1a1a2a" text-anchor="start" textLength="17.5" lengthAdjust="spacingAndGlyphs">24.8</text>
<text x="1557.5" y="340" font-size="9.5" fill="#1a1a2a" text-anchor="start" textLength="17.5" lengthAdjust="spacingAndGlyphs">24.6</text>
<text x="1557.5" y="366" font-size="9.5" fill="#1a1a2a" text-anchor="start" textLength="17.5" lengthAdjust="spacingAndGlyphs">24.4</text>
<text x="1557.5" y="392" font-size="9.5" fill="#1a1a2a" text-anchor="start" textLength="17.5" lengthAdjust="spacingAndGlyphs">24.2</text>
<text x="1557.5" y="418.3" font-size="10" fill="#111" font-weight="bold" text-anchor="start" textLength="11.5" lengthAdjust="spacingAndGlyphs">24</text>
<text x="1557.5" y="444" font-size="9.5" fill="#1a1a2a" text-anchor="start" textLength="17.5" lengthAdjust="spacingAndGlyphs">23.8</text>
<text x="1557.5" y="471" font-size="9.5" fill="#1a1a2a" text-anchor="start" textLength="17.5" lengthAdjust="spacingAndGlyphs">23.6</text>
<text x="1557.5" y="497" font-size="9.5" fill="#1a1a2a" text-anchor="start" textLength="17.5" lengthAdjust="spacingAndGlyphs">23.4</text>
<text x="1556" y="41.7" font-size="9.2" fill="#c8c8c8" font-weight="bold" text-anchor="start" textLength="23" lengthAdjust="spacingAndGlyphs">Price</text>
<text x="1555.4" y="54.3" font-size="9.2" fill="#c8c8c8" font-weight="bold" text-anchor="start" textLength="17.8" lengthAdjust="spacingAndGlyphs">PKR</text>
<rect x="1551" y="172" width="46" height="10.5" fill="#0c4848"/>
<text x="1551.5" y="181.1" font-size="10" fill="#d8f4f4" text-anchor="start" textLength="22.5" lengthAdjust="spacingAndGlyphs">25.81</text>
<rect x="1551" y="267.5" width="46" height="10.0" fill="#0c4848"/>
<text x="1551.5" y="276.1" font-size="10" fill="#d8f4f4" text-anchor="start" textLength="22.5" lengthAdjust="spacingAndGlyphs">25.09</text>
<rect x="1551" y="294" width="46" height="10" fill="#ff0000"/>
<text x="1551.5" y="302.6" font-size="10" fill="#700000" font-weight="bold" text-anchor="start" textLength="23.5" lengthAdjust="spacingAndGlyphs">24.88</text>
<rect x="1551" y="362" width="46" height="10.5" fill="#0c4848"/>
<text x="1551.5" y="371.1" font-size="10" fill="#d8f4f4" text-anchor="start" textLength="22.5" lengthAdjust="spacingAndGlyphs">24.36</text>
<rect x="1556.5" y="507.5" width="24" height="10" fill="#fff" stroke="#cfcfcf" stroke-width="1"/>
<text x="1558" y="516" font-size="10" fill="#cdcdcd" font-weight="bold" text-anchor="start" textLength="21" lengthAdjust="spacingAndGlyphs">Auto</text>
<rect x="1572.5" y="20.3" width="10" height="10" rx="1.2" fill="#c6ccd8" stroke="#66708a" stroke-width="1"/>
<rect x="1574" y="22.0" width="7" height="6.3" fill="#fbfbfd"/>
<rect x="1575.6" y="23.7" width="3.8" height="2.8" fill="#fff" stroke="#505a70" stroke-width="1"/>
<rect x="1585.5" y="20.3" width="10" height="10" rx="1.2" fill="#d4b2ba" stroke="#4e1a28" stroke-width="1"/>
<path d="M1587.6 22.6L1593.4 28.0M1593.4 22.6L1587.6 28.0" stroke="#7a4a55" stroke-width="2.4"/>
<path d="M1587.6 22.6L1593.4 28.0M1593.4 22.6L1587.6 28.0" stroke="#fff" stroke-width="1.4"/>
<g shape-rendering="crispEdges">
<rect x="12" y="557" width="1539" height="1" fill="#c03030"/>
<rect x="12" y="584" width="1539" height="1" fill="#c03030"/>
</g>
<g clip-path="url(#rsi)"><polyline points="12.0,565.0 18.1,565.0 31.2,565.8 44.2,566.8 57.3,567.0 70.3,567.2 83.4,569.0 96.5,570.5 109.5,571.8 122.6,572.8 135.6,573.8 148.7,575.4 161.8,576.3 174.8,576.9 187.9,577.3 200.9,577.7 214.0,578.0 227.1,577.5 240.1,575.7 253.2,574.6 266.2,574.1 279.3,572.8 292.3,572.2 305.4,572.8 318.5,573.4 331.5,572.7 344.6,572.0 357.6,570.1 370.7,568.2 383.8,565.5 396.8,565.2 409.9,565.4 422.9,566.5 436.0,566.8 449.1,566.7 462.1,566.8 475.2,566.8 488.2,566.3 501.3,566.6 514.4,566.9 527.4,565.7 540.5,565.9 553.5,565.8 566.6,566.0 579.6,566.7 592.7,566.8 605.8,567.2 618.8,567.2 631.9,566.8 644.9,567.2 658.0,567.9 671.1,568.3 684.1,568.6 697.2,569.5 710.2,570.0 723.3,570.4 736.4,571.0 749.4,570.8 762.5,570.2 775.5,570.2 788.6,568.3 801.6,567.3 814.7,566.9 827.8,566.2 840.8,565.6 853.9,565.2 866.9,564.2 880.0,563.2 893.1,562.3 906.1,562.5 919.2,563.2 932.2,563.6 945.3,563.8 958.4,563.3 971.4,562.8 984.5,563.1 997.5,563.6 1010.6,564.5 1023.7,565.8 1036.7,566.7 1049.8,567.6 1062.8,568.7 1075.9,569.9 1088.9,570.5 1102.0,571.3 1115.1,572.4 1128.1,572.8 1141.2,572.5 1154.2,572.6 1167.3,572.0 1180.4,570.3 1193.4,569.6 1206.5,569.3 1219.5,568.7 1232.6,568.9 1245.7,569.6 1258.7,570.0 1271.8,572.4 1284.8,575.0 1297.9,576.8 1311.0,578.5 1324.0,578.7 1337.1,577.9 1350.1,577.3 1363.2,577.0 1376.2,576.1 1389.3,575.9 1402.4,575.7 1415.4,575.6 1428.5,575.5 1441.5,575.0 1454.6,575.1 1467.7,575.4" fill="none" stroke="#6a5cf0" stroke-width="1" shape-rendering="crispEdges"/><polyline points="12.0,567.7 18.1,567.7 31.2,568.7 44.2,570.8 57.3,567.9 70.3,567.9 83.4,576.0 96.5,576.6 109.5,576.8 122.6,576.8 135.6,577.9 148.7,581.7 161.8,580.1 174.8,579.0 187.9,579.0 200.9,579.1 214.0,579.1 227.1,575.5 240.1,568.6 253.2,570.4 266.2,571.8 279.3,567.9 292.3,569.8 305.4,575.0 318.5,576.0 331.5,569.7 344.6,569.3 357.6,562.5 370.7,560.7 383.8,554.5 396.8,564.1 409.9,566.4 422.9,570.7 436.0,568.1 449.1,566.4 462.1,567.2 475.2,566.6 488.2,564.7 501.3,567.8 514.4,568.1 527.4,561.0 540.5,566.5 553.5,565.5 566.6,566.9 579.6,569.2 592.7,567.2 605.8,568.8 618.8,567.2 631.9,565.5 644.9,568.8 658.0,570.3 671.1,570.3 684.1,569.5 697.2,573.3 710.2,571.9 723.3,571.8 736.4,573.5 749.4,569.8 762.5,568.1 775.5,570.1 788.6,560.6 801.6,563.3 814.7,565.1 827.8,563.8 840.8,562.8 853.9,563.8 866.9,560.0 880.0,559.4 893.1,558.6 906.1,563.4 919.2,565.7 932.2,565.6 945.3,564.4 958.4,561.5 971.4,560.8 984.5,564.4 997.5,565.2 1010.6,568.4 1023.7,571.0 1036.7,570.4 1049.8,570.8 1062.8,573.3 1075.9,574.7 1088.9,573.0 1102.0,574.5 1115.1,576.5 1128.1,574.8 1141.2,571.1 1154.2,572.9 1167.3,569.9 1180.4,563.4 1193.4,566.9 1206.5,567.9 1219.5,566.1 1232.6,569.7 1245.7,572.6 1258.7,571.5 1271.8,582.0 1284.8,585.5 1297.9,583.9 1311.0,585.2 1324.0,579.5 1337.1,574.6 1350.1,575.3 1363.2,575.8 1376.2,572.4 1389.3,575.2 1402.4,575.0 1415.4,575.1 1428.5,575.1 1441.5,572.8 1454.6,575.5 1467.7,576.8" fill="none" stroke="#e04040" stroke-width="1" shape-rendering="crispEdges"/></g>
<g><circle cx="23.299999999999997" cy="526.3" r="4.6" fill="url(#clk)" stroke="#7d8c96" stroke-width="0.9"/><path d="M23.9 523.0999999999999V527.3H20.099999999999998" stroke="#000" stroke-width="1.3" fill="none"/></g>
<text x="28.2" y="530" font-size="9.4" fill="#e8202a" text-anchor="start" textLength="174.9" lengthAdjust="spacingAndGlyphs">RSI, DESCON OXYCHEM, Trade Price(Last),</text>
<text x="209.3" y="530" font-size="9.4" fill="#e8202a" text-anchor="start" textLength="12.8" lengthAdjust="spacingAndGlyphs">14,</text>
<text x="223.8" y="530" font-size="9.4" fill="#e8202a" text-anchor="start" textLength="73.2" lengthAdjust="spacingAndGlyphs">Wilder Smoothing,</text>
<text x="300.2" y="530" font-size="9.4" fill="#e8202a" text-anchor="start" textLength="32.6" lengthAdjust="spacingAndGlyphs">5:00 PM</text>
<text x="336.3" y="530" font-size="9.4" fill="#e8202a" text-anchor="start" textLength="48.1" lengthAdjust="spacingAndGlyphs">12/15/2023,</text>
<text x="387.5" y="530" font-size="9.4" fill="#e8202a" text-anchor="start" textLength="32.0" lengthAdjust="spacingAndGlyphs">41.448,</text>
<g><circle cx="427.4" cy="526.3" r="4.6" fill="url(#clk)" stroke="#7d8c96" stroke-width="0.9"/><path d="M428.0 523.0999999999999V527.3H424.2" stroke="#000" stroke-width="1.3" fill="none"/></g>
<text x="432.2" y="530" font-size="9.4" fill="#4c3fd6" text-anchor="start" textLength="124.1" lengthAdjust="spacingAndGlyphs">EMA, RSI(DESCON OXYCHEM),</text>
<text x="562.9" y="530" font-size="9.4" fill="#4c3fd6" text-anchor="start" textLength="7.8" lengthAdjust="spacingAndGlyphs">9,</text>
<text x="574.4" y="530" font-size="9.4" fill="#4c3fd6" text-anchor="start" textLength="32.5" lengthAdjust="spacingAndGlyphs">5:00 PM</text>
<text x="610.1" y="530" font-size="9.4" fill="#4c3fd6" text-anchor="start" textLength="49.1" lengthAdjust="spacingAndGlyphs">12/15/2023,</text>
<text x="661.6" y="530" font-size="9.4" fill="#4c3fd6" text-anchor="start" textLength="28.8" lengthAdjust="spacingAndGlyphs">43.390</text>
<rect x="1572.5" y="521.3" width="10" height="10" rx="1.2" fill="#c6ccd8" stroke="#66708a" stroke-width="1"/>
<rect x="1574" y="523.0" width="7" height="6.3" fill="#fbfbfd"/>
<rect x="1575.6" y="524.6999999999999" width="3.8" height="2.8" fill="#fff" stroke="#505a70" stroke-width="1"/>
<rect x="1585.5" y="521.3" width="10" height="10" rx="1.2" fill="#d4b2ba" stroke="#4e1a28" stroke-width="1"/>
<path d="M1587.6 523.5999999999999L1593.4 529.0M1593.4 523.5999999999999L1587.6 529.0" stroke="#7a4a55" stroke-width="2.4"/>
<path d="M1587.6 523.5999999999999L1593.4 529.0M1593.4 523.5999999999999L1587.6 529.0" stroke="#fff" stroke-width="1.4"/>
<text x="1556" y="543.5" font-size="9.2" fill="#c8c8c8" font-weight="bold" text-anchor="start" textLength="24.5" lengthAdjust="spacingAndGlyphs">Value</text>
<text x="1555.4" y="556" font-size="9.2" fill="#c8c8c8" font-weight="bold" text-anchor="start" textLength="17.8" lengthAdjust="spacingAndGlyphs">PKR</text>
<rect x="1551" y="561" width="46" height="10.5" fill="#5a30ff"/>
<text x="1551.2" y="569.6" font-size="10" fill="#101060" text-anchor="start" textLength="27" lengthAdjust="spacingAndGlyphs">43.390</text>
<rect x="1551" y="571.5" width="46" height="10.3" fill="#ff0000"/>
<text x="1551.2" y="580.3" font-size="10" fill="#200000" font-weight="bold" text-anchor="start" textLength="30" lengthAdjust="spacingAndGlyphs">41.448</text>
<rect x="1552" y="603" width="3" height="1" fill="#999"/>
<rect x="1556.5" y="598.5" width="24" height="10" fill="#fff" stroke="#cfcfcf" stroke-width="1"/>
<text x="1558" y="607" font-size="10" fill="#cdcdcd" font-weight="bold" text-anchor="start" textLength="21" lengthAdjust="spacingAndGlyphs">Auto</text>
<g shape-rendering="crispEdges">
<rect x="12" y="638" width="1539" height="1" fill="#3a8ad0"/>
<rect x="12" y="665" width="1539" height="1" fill="#3a8ad0"/>
</g>
<g clip-path="url(#sto)"><polyline points="12.0,672.8 18.1,672.8 31.2,672.3 44.2,672.0 57.3,669.5 70.3,666.0 83.4,661.0 96.5,657.6 109.5,658.0 122.6,663.6 135.6,665.8 148.7,666.3 161.8,666.3 174.8,667.1 187.9,665.4 200.9,663.1 214.0,659.2 227.1,653.7 240.1,647.1 253.2,642.2 266.2,643.2 279.3,645.7 292.3,648.0 305.4,649.3 318.5,653.9 331.5,658.3 344.6,659.2 357.6,652.6 370.7,644.0 383.8,636.6 396.8,635.8 409.9,640.0 422.9,648.7 436.0,656.7 449.1,661.9 462.1,662.2 475.2,659.6 488.2,654.8 501.3,652.5 514.4,653.1 527.4,654.7 540.5,654.2 553.5,650.5 566.6,649.9 579.6,651.6 592.7,655.1 605.8,656.8 618.8,655.3 631.9,651.5 644.9,647.6 658.0,648.6 671.1,655.5 684.1,661.2 697.2,663.8 710.2,662.8 723.3,664.2 736.4,666.0 749.4,665.0 762.5,659.5 775.5,651.5 788.6,644.6 801.6,641.1 814.7,639.1 827.8,639.5 840.8,639.3 853.9,639.9 866.9,638.9 880.0,638.3 893.1,637.6 906.1,639.9 919.2,646.0 932.2,655.1 945.3,662.7 958.4,662.8 971.4,656.5 984.5,647.6 997.5,643.8 1010.6,647.2 1023.7,654.4 1036.7,661.3 1049.8,665.3 1062.8,666.6 1075.9,666.9 1088.9,666.6 1102.0,667.1 1115.1,666.9 1128.1,666.5 1141.2,663.0 1154.2,658.3 1167.3,651.9 1180.4,646.5 1193.4,641.3 1206.5,639.1 1219.5,641.2 1232.6,646.6 1245.7,654.1 1258.7,659.7 1271.8,664.7 1284.8,665.6 1297.9,665.8 1311.0,663.2 1324.0,660.8 1337.1,655.3 1350.1,648.7 1363.2,641.8 1376.2,638.5 1389.3,639.2 1402.4,642.1 1415.4,646.5 1428.5,649.5 1441.5,650.6 1454.6,650.5 1467.7,652.2" fill="none" stroke="#f05020" stroke-width="1" shape-rendering="crispEdges"/><polyline points="12.0,672.7 18.1,672.7 31.2,671.3 44.2,672.0 57.3,666.0 70.3,659.0 83.4,655.5 96.5,658.4 109.5,665.7 122.6,666.8 135.6,664.9 148.7,667.2 161.8,666.9 174.8,667.1 187.9,662.1 200.9,660.1 214.0,655.4 227.1,645.6 240.1,640.2 253.2,640.8 266.2,648.5 279.3,647.8 292.3,647.8 305.4,652.2 318.5,661.5 331.5,661.3 344.6,654.8 357.6,641.7 370.7,635.5 383.8,632.4 396.8,639.3 409.9,648.3 422.9,658.6 436.0,663.2 449.1,663.9 462.1,659.6 475.2,655.2 488.2,649.7 501.3,652.6 514.4,657.0 527.4,654.4 540.5,651.3 553.5,645.9 566.6,652.6 579.6,656.3 592.7,656.5 605.8,657.8 618.8,651.8 631.9,645.1 644.9,645.9 658.0,654.8 671.1,665.9 684.1,663.0 697.2,662.4 710.2,663.0 723.3,667.3 736.4,667.6 749.4,660.1 762.5,650.7 775.5,643.7 788.6,639.4 801.6,640.2 814.7,637.6 827.8,640.8 840.8,639.5 853.9,639.4 866.9,637.6 880.0,637.8 893.1,637.4 906.1,644.5 919.2,656.2 932.2,664.5 945.3,667.2 958.4,656.8 971.4,645.5 984.5,640.6 997.5,645.4 1010.6,655.5 1023.7,662.2 1036.7,666.3 1049.8,667.3 1062.8,666.2 1075.9,667.3 1088.9,666.5 1102.0,667.6 1115.1,666.6 1128.1,665.1 1141.2,657.2 1154.2,652.6 1167.3,645.9 1180.4,640.8 1193.4,637.2 1206.5,639.5 1219.5,646.9 1232.6,653.4 1245.7,661.8 1258.7,663.9 1271.8,668.3 1284.8,664.6 1297.9,664.6 1311.0,660.3 1324.0,657.5 1337.1,648.0 1350.1,640.6 1363.2,636.8 1376.2,638.2 1389.3,642.4 1402.4,645.6 1415.4,651.5 1428.5,651.4 1441.5,648.8 1454.6,651.4 1467.7,656.4" fill="none" stroke="#20a0f0" stroke-width="1" shape-rendering="crispEdges"/></g>
<g><circle cx="23.299999999999997" cy="619.3" r="4.6" fill="url(#clk)" stroke="#7d8c96" stroke-width="0.9"/><path d="M23.9 616.0999999999999V620.3H20.099999999999998" stroke="#000" stroke-width="1.3" fill="none"/></g>
<text x="28.2" y="623" font-size="9.4" fill="#2e9bd8" text-anchor="start" textLength="164.4" lengthAdjust="spacingAndGlyphs">StochS, DESCON OXYCHEM, Trade Price,</text>
<text x="198.8" y="623" font-size="9.4" fill="#2e9bd8" text-anchor="start" textLength="6.3" lengthAdjust="spacingAndGlyphs">5,</text>
<text x="208.7" y="623" font-size="9.4" fill="#2e9bd8" text-anchor="start" textLength="7.5" lengthAdjust="spacingAndGlyphs">3,</text>
<text x="219.5" y="623" font-size="9.4" fill="#2e9bd8" text-anchor="start" textLength="29.3" lengthAdjust="spacingAndGlyphs">Simple,</text>
<text x="251.6" y="623" font-size="9.4" fill="#2e9bd8" text-anchor="start" textLength="6.6" lengthAdjust="spacingAndGlyphs">3,</text>
<text x="262.8" y="623" font-size="9.4" fill="#2e9bd8" text-anchor="start" textLength="32.9" lengthAdjust="spacingAndGlyphs">5:00 PM</text>
<text x="298.5" y="623" font-size="9.4" fill="#2e9bd8" text-anchor="start" textLength="49.7" lengthAdjust="spacingAndGlyphs">12/15/2023,</text>
<text x="350.3" y="623" font-size="9.4" fill="#2e9bd8" text-anchor="start" textLength="31.7" lengthAdjust="spacingAndGlyphs">40.000,</text>
<text x="384.7" y="623" font-size="9.4" fill="#e8502a" text-anchor="start" textLength="28.5" lengthAdjust="spacingAndGlyphs">49.630</text>
<rect x="1572.5" y="614.3" width="10" height="10" rx="1.2" fill="#c6ccd8" stroke="#66708a" stroke-width="1"/>
<rect x="1574" y="616.0" width="7" height="6.3" fill="#fbfbfd"/>
<rect x="1575.6" y="617.6999999999999" width="3.8" height="2.8" fill="#fff" stroke="#505a70" stroke-width="1"/>
<rect x="1585.5" y="614.3" width="10" height="10" rx="1.2" fill="#d4b2ba" stroke="#4e1a28" stroke-width="1"/>
<path d="M1587.6 616.5999999999999L1593.4 622.0M1593.4 616.5999999999999L1587.6 622.0" stroke="#7a4a55" stroke-width="2.4"/>
<path d="M1587.6 616.5999999999999L1593.4 622.0M1593.4 616.5999999999999L1587.6 622.0" stroke="#fff" stroke-width="1.4"/>
<text x="1556" y="636.5" font-size="9.2" fill="#c8c8c8" font-weight="bold" text-anchor="start" textLength="24.5" lengthAdjust="spacingAndGlyphs">Value</text>
<rect x="1551" y="640" width="46" height="10.3" fill="#ff4010"/>
<text x="1551.2" y="648.6" font-size="10" fill="#300000" text-anchor="start" textLength="27" lengthAdjust="spacingAndGlyphs">49.630</text>
<rect x="1551" y="650.3" width="46" height="10.4" fill="#1e90ff"/>
<text x="1551.2" y="659" font-size="10" fill="#000828" font-weight="bold" text-anchor="start" textLength="30" lengthAdjust="spacingAndGlyphs">40.000</text>
<rect x="1552" y="673" width="3" height="1" fill="#999"/>
<rect x="1556.5" y="668.5" width="24" height="10" fill="#fff" stroke="#cfcfcf" stroke-width="1"/>
<text x="1558" y="677" font-size="10" fill="#cdcdcd" font-weight="bold" text-anchor="start" textLength="21" lengthAdjust="spacingAndGlyphs">Auto</text>
<g shape-rendering="crispEdges">
<rect x="12" y="718" width="1539" height="1" fill="#e8e050"/>
</g>
<g clip-path="url(#mac)"><polyline points="12.0,697.1 18.1,697.1 31.2,698.5 44.2,700.0 57.3,701.5 70.3,702.9 83.4,704.7 96.5,706.7 109.5,708.7 122.6,710.8 135.6,712.7 148.7,714.8 161.8,716.9 174.8,718.7 187.9,720.3 200.9,721.7 214.0,722.9 227.1,723.8 240.1,724.1 253.2,724.1 266.2,724.0 279.3,723.7 292.3,723.2 305.4,723.0 318.5,722.9 331.5,722.7 344.6,722.3 357.6,721.5 370.7,720.3 383.8,718.3 396.8,716.3 409.9,714.8 422.9,713.8 436.0,713.1 449.1,712.4 462.1,711.9 475.2,711.4 488.2,710.9 501.3,710.5 514.4,710.3 527.4,709.7 540.5,709.1 553.5,708.6 566.6,708.3 579.6,708.2 592.7,708.2 605.8,708.4 618.8,708.6 631.9,708.6 644.9,708.8 658.0,709.2 671.1,709.7 684.1,710.3 697.2,711.1 710.2,711.9 723.3,712.8 736.4,713.7 749.4,714.4 762.5,714.9 775.5,715.2 788.6,714.8 801.6,714.1 814.7,713.4 827.8,712.6 840.8,711.6 853.9,710.8 866.9,709.7 880.0,708.5 893.1,707.2 906.1,706.2 919.2,705.6 932.2,705.3 945.3,705.1 958.4,704.9 971.4,704.6 984.5,704.4 997.5,704.4 1010.6,704.8 1023.7,705.5 1036.7,706.3 1049.8,707.3 1062.8,708.4 1075.9,709.7 1088.9,710.9 1102.0,712.2 1115.1,713.5 1128.1,714.8 1141.2,715.7 1154.2,716.6 1167.3,717.2 1180.4,717.2 1193.4,717.1 1206.5,716.9 1219.5,716.6 1232.6,716.4 1245.7,716.4 1258.7,716.6 1271.8,717.5 1284.8,719.2 1297.9,721.3 1311.0,723.7 1324.0,725.7 1337.1,727.2 1350.1,728.3 1363.2,729.0 1376.2,729.3 1389.3,729.5 1402.4,729.5 1415.4,729.5 1428.5,729.4 1441.5,729.1 1454.6,728.8 1467.7,728.6" fill="none" stroke="#38c0ec" stroke-width="1" shape-rendering="crispEdges"/><polyline points="12.0,701.6 18.1,701.6 31.2,703.8 44.2,706.2 57.3,707.4 70.3,708.5 83.4,711.8 96.5,714.6 109.5,717.0 122.6,718.8 135.6,720.6 148.7,723.3 161.8,725.0 174.8,726.0 187.9,726.8 200.9,727.3 214.0,727.6 227.1,727.2 240.1,725.4 253.2,724.2 266.2,723.6 279.3,722.2 292.3,721.4 305.4,722.0 318.5,722.7 331.5,721.8 344.6,720.9 357.6,718.2 370.7,715.4 383.8,710.1 396.8,708.7 409.9,708.5 422.9,710.0 436.0,710.2 449.1,709.7 462.1,709.7 475.2,709.5 488.2,708.7 501.3,709.1 514.4,709.7 527.4,707.0 540.5,707.0 553.5,706.5 566.6,706.8 579.6,708.0 592.7,708.2 605.8,709.1 618.8,709.2 631.9,708.8 644.9,709.6 658.0,710.8 671.1,711.9 684.1,712.5 697.2,714.3 710.2,715.3 723.3,716.2 736.4,717.3 749.4,717.3 762.5,716.7 775.5,716.8 788.6,713.2 801.6,711.3 814.7,710.4 827.8,709.2 840.8,708.0 853.9,707.4 866.9,705.4 880.0,703.7 893.1,702.1 906.1,702.3 919.2,703.2 932.2,704.0 945.3,704.5 958.4,703.8 971.4,703.3 984.5,703.8 997.5,704.6 1010.6,706.1 1023.7,708.2 1036.7,709.7 1049.8,711.1 1062.8,713.0 1075.9,714.8 1088.9,716.0 1102.0,717.3 1115.1,718.8 1128.1,719.7 1141.2,719.6 1154.2,719.9 1167.3,719.5 1180.4,717.4 1193.4,716.6 1206.5,716.2 1219.5,715.4 1232.6,715.6 1245.7,716.5 1258.7,717.0 1271.8,721.1 1284.8,726.2 1297.9,729.7 1311.0,733.1 1324.0,734.0 1337.1,733.1 1350.1,732.5 1363.2,732.0 1376.2,730.5 1389.3,730.2 1402.4,729.8 1415.4,729.4 1428.5,728.9 1441.5,727.8 1454.6,727.8 1467.7,728.0" fill="none" stroke="#e8e040" stroke-width="1" shape-rendering="crispEdges"/></g>
<g><circle cx="23.299999999999997" cy="687.3" r="4.6" fill="url(#clk)" stroke="#7d8c96" stroke-width="0.9"/><path d="M23.9 684.0999999999999V688.3H20.099999999999998" stroke="#000" stroke-width="1.3" fill="none"/></g>
<text x="28.6" y="691" font-size="9.4" fill="#d8d42a" text-anchor="start" textLength="183.3" lengthAdjust="spacingAndGlyphs">MACD, DESCON OXYCHEM, Trade Price(Last),</text>
<text x="219.1" y="691" font-size="9.4" fill="#d8d42a" text-anchor="start" textLength="11.4" lengthAdjust="spacingAndGlyphs">12,</text>
<text x="234.2" y="691" font-size="9.4" fill="#d8d42a" text-anchor="start" textLength="13.0" lengthAdjust="spacingAndGlyphs">26,</text>
<text x="249.8" y="691" font-size="9.4" fill="#d8d42a" text-anchor="start" textLength="8.2" lengthAdjust="spacingAndGlyphs">9,</text>
<text x="260.6" y="691" font-size="9.4" fill="#d8d42a" text-anchor="start" textLength="49.8" lengthAdjust="spacingAndGlyphs">Exponential,</text>
<text x="313.7" y="691" font-size="9.4" fill="#d8d42a" text-anchor="start" textLength="33.4" lengthAdjust="spacingAndGlyphs">5:00 PM</text>
<text x="350.4" y="691" font-size="9.4" fill="#d8d42a" text-anchor="start" textLength="49.1" lengthAdjust="spacingAndGlyphs">12/15/2023,</text>
<text x="402.1" y="691" font-size="9.4" fill="#d8d42a" text-anchor="start" textLength="24.7" lengthAdjust="spacingAndGlyphs">-0.14,</text>
<text x="430.1" y="691" font-size="9.4" fill="#28b4e8" text-anchor="start" textLength="21.9" lengthAdjust="spacingAndGlyphs">-0.15</text>
<rect x="1572.5" y="682.3" width="10" height="10" rx="1.2" fill="#c6ccd8" stroke="#66708a" stroke-width="1"/>
<rect x="1574" y="684.0" width="7" height="6.3" fill="#fbfbfd"/>
<rect x="1575.6" y="685.6999999999999" width="3.8" height="2.8" fill="#fff" stroke="#505a70" stroke-width="1"/>
<rect x="1585.5" y="682.3" width="10" height="10" rx="1.2" fill="#d4b2ba" stroke="#4e1a28" stroke-width="1"/>
<path d="M1587.6 684.5999999999999L1593.4 690.0M1593.4 684.5999999999999L1587.6 690.0" stroke="#7a4a55" stroke-width="2.4"/>
<path d="M1587.6 684.5999999999999L1593.4 690.0M1593.4 684.5999999999999L1587.6 690.0" stroke="#fff" stroke-width="1.4"/>
<text x="1556" y="704.5" font-size="9.2" fill="#c8c8c8" font-weight="bold" text-anchor="start" textLength="24.5" lengthAdjust="spacingAndGlyphs">Value</text>
<text x="1555.4" y="717" font-size="9.2" fill="#c8c8c8" font-weight="bold" text-anchor="start" textLength="17.8" lengthAdjust="spacingAndGlyphs">PKR</text>
<rect x="1551" y="722.5" width="46" height="10.6" fill="#e8e010"/>
<text x="1551.2" y="731.4" font-size="10" fill="#101000" font-weight="bold" text-anchor="start" textLength="26" lengthAdjust="spacingAndGlyphs">-0.14</text>
<rect x="1551" y="733.1" width="46" height="6.7" fill="#08c4f4"/>
<svg x="1551" y="733.1" width="46" height="6.7" overflow="hidden">
<text x="0.5" y="9" font-size="10" fill="#002040" text-anchor="start" textLength="23" lengthAdjust="spacingAndGlyphs">-0.15</text>
</svg>
<g shape-rendering="crispEdges">
<rect x="31" y="741" width="1" height="2" fill="#333"/>
<rect x="70" y="741" width="1" height="2" fill="#333"/>
<rect x="110" y="741" width="1" height="2" fill="#333"/>
<rect x="149" y="741" width="1" height="2" fill="#333"/>
<rect x="201" y="741" width="1" height="2" fill="#333"/>
<rect x="240" y="741" width="1" height="2" fill="#333"/>
<rect x="292" y="741" width="1" height="2" fill="#333"/>
<rect x="332" y="741" width="1" height="2" fill="#333"/>
<rect x="384" y="741" width="1" height="2" fill="#333"/>
<rect x="423" y="741" width="1" height="2" fill="#333"/>
<rect x="475" y="741" width="1" height="2" fill="#333"/>
<rect x="514" y="741" width="1" height="2" fill="#333"/>
<rect x="554" y="741" width="1" height="2" fill="#333"/>
<rect x="593" y="741" width="1" height="2" fill="#333"/>
<rect x="645" y="741" width="1" height="2" fill="#333"/>
<rect x="684" y="741" width="1" height="2" fill="#333"/>
<rect x="736" y="741" width="1" height="2" fill="#333"/>
<rect x="776" y="741" width="1" height="2" fill="#333"/>
<rect x="828" y="741" width="1" height="2" fill="#333"/>
<rect x="867" y="741" width="1" height="2" fill="#333"/>
<rect x="919" y="741" width="1" height="2" fill="#333"/>
<rect x="958" y="741" width="1" height="2" fill="#333"/>
<rect x="998" y="741" width="1" height="2" fill="#333"/>
<rect x="1037" y="741" width="1" height="2" fill="#333"/>
<rect x="1089" y="741" width="1" height="2" fill="#333"/>
<rect x="1128" y="741" width="1" height="2" fill="#333"/>
<rect x="1180" y="741" width="1" height="2" fill="#333"/>
<rect x="1220" y="741" width="1" height="2" fill="#333"/>
<rect x="1272" y="741" width="1" height="2" fill="#333"/>
<rect x="1311" y="741" width="1" height="2" fill="#333"/>
<rect x="1363" y="741" width="1" height="2" fill="#333"/>
<rect x="1402" y="741" width="1" height="2" fill="#333"/>
<rect x="1442" y="741" width="1" height="2" fill="#333"/>
<rect x="1481" y="741" width="1" height="2" fill="#333"/>
<rect x="1533" y="741" width="1" height="2" fill="#333"/>
<rect x="70" y="754" width="1.3" height="11" fill="#222"/>
<rect x="149" y="754" width="1.3" height="11" fill="#222"/>
<rect x="240" y="754" width="1.3" height="11" fill="#222"/>
<rect x="332" y="754" width="1.3" height="11" fill="#222"/>
<rect x="423" y="754" width="1.3" height="11" fill="#222"/>
<rect x="514" y="754" width="1.3" height="11" fill="#222"/>
<rect x="593" y="754" width="1.3" height="11" fill="#222"/>
<rect x="684" y="754" width="1.3" height="11" fill="#222"/>
<rect x="776" y="754" width="1.3" height="11" fill="#222"/>
<rect x="867" y="754" width="1.3" height="11" fill="#222"/>
<rect x="958" y="754" width="1.3" height="11" fill="#222"/>
<rect x="1037" y="754" width="1.3" height="11" fill="#222"/>
<rect x="1128" y="754" width="1.3" height="11" fill="#222"/>
<rect x="1220" y="754" width="1.3" height="11" fill="#222"/>
<rect x="1311" y="754" width="1.3" height="11" fill="#222"/>
<rect x="1402" y="754" width="1.3" height="11" fill="#222"/>
<rect x="1481" y="754" width="1.3" height="11" fill="#222"/>
</g>
<text x="31.3" y="751.7" font-size="9" fill="#2a2a38" text-anchor="middle" textLength="21.8" lengthAdjust="spacingAndGlyphs">14:00</text>
<text x="70.3" y="751.7" font-size="9" fill="#2a2a38" text-anchor="middle" textLength="21.8" lengthAdjust="spacingAndGlyphs">10:00</text>
<text x="110.3" y="751.7" font-size="9" fill="#2a2a38" text-anchor="middle" textLength="21.8" lengthAdjust="spacingAndGlyphs">15:00</text>
<text x="149.3" y="751.7" font-size="9" fill="#2a2a38" text-anchor="middle" textLength="21.8" lengthAdjust="spacingAndGlyphs">10:00</text>
<text x="201.3" y="751.7" font-size="9" fill="#2a2a38" text-anchor="middle" textLength="21.8" lengthAdjust="spacingAndGlyphs">14:00</text>
<text x="240.3" y="751.7" font-size="9" fill="#2a2a38" text-anchor="middle" textLength="21.8" lengthAdjust="spacingAndGlyphs">10:00</text>
<text x="292.3" y="751.7" font-size="9" fill="#2a2a38" text-anchor="middle" textLength="21.8" lengthAdjust="spacingAndGlyphs">14:00</text>
<text x="332.3" y="751.7" font-size="9" fill="#2a2a38" text-anchor="middle" textLength="21.8" lengthAdjust="spacingAndGlyphs">10:00</text>
<text x="384.3" y="751.7" font-size="9" fill="#2a2a38" text-anchor="middle" textLength="21.8" lengthAdjust="spacingAndGlyphs">14:00</text>
<text x="423.3" y="751.7" font-size="9" fill="#2a2a38" text-anchor="middle" textLength="21.8" lengthAdjust="spacingAndGlyphs">10:00</text>
<text x="475.3" y="751.7" font-size="9" fill="#2a2a38" text-anchor="middle" textLength="21.8" lengthAdjust="spacingAndGlyphs">14:00</text>
<text x="514.3" y="751.7" font-size="9" fill="#2a2a38" text-anchor="middle" textLength="21.8" lengthAdjust="spacingAndGlyphs">10:00</text>
<text x="554.3" y="751.7" font-size="9" fill="#2a2a38" text-anchor="middle" textLength="21.8" lengthAdjust="spacingAndGlyphs">15:00</text>
<text x="593.3" y="751.7" font-size="9" fill="#2a2a38" text-anchor="middle" textLength="21.8" lengthAdjust="spacingAndGlyphs">10:00</text>
<text x="645.3" y="751.7" font-size="9" fill="#2a2a38" text-anchor="middle" textLength="21.8" lengthAdjust="spacingAndGlyphs">14:00</text>
<text x="684.3" y="751.7" font-size="9" fill="#2a2a38" text-anchor="middle" textLength="21.8" lengthAdjust="spacingAndGlyphs">10:00</text>
<text x="736.3" y="751.7" font-size="9" fill="#2a2a38" text-anchor="middle" textLength="21.8" lengthAdjust="spacingAndGlyphs">14:00</text>
<text x="776.3" y="751.7" font-size="9" fill="#2a2a38" text-anchor="middle" textLength="21.8" lengthAdjust="spacingAndGlyphs">10:00</text>
<text x="828.3" y="751.7" font-size="9" fill="#2a2a38" text-anchor="middle" textLength="21.8" lengthAdjust="spacingAndGlyphs">14:00</text>
<text x="867.3" y="751.7" font-size="9" fill="#2a2a38" text-anchor="middle" textLength="21.8" lengthAdjust="spacingAndGlyphs">10:00</text>
<text x="919.3" y="751.7" font-size="9" fill="#2a2a38" text-anchor="middle" textLength="21.8" lengthAdjust="spacingAndGlyphs">14:00</text>
<text x="958.3" y="751.7" font-size="9" fill="#2a2a38" text-anchor="middle" textLength="21.8" lengthAdjust="spacingAndGlyphs">10:00</text>
<text x="998.3" y="751.7" font-size="9" fill="#2a2a38" text-anchor="middle" textLength="21.8" lengthAdjust="spacingAndGlyphs">15:00</text>
<text x="1037.3" y="751.7" font-size="9" fill="#2a2a38" text-anchor="middle" textLength="21.8" lengthAdjust="spacingAndGlyphs">10:00</text>
<text x="1089.3" y="751.7" font-size="9" fill="#2a2a38" text-anchor="middle" textLength="21.8" lengthAdjust="spacingAndGlyphs">14:00</text>
<text x="1128.3" y="751.7" font-size="9" fill="#2a2a38" text-anchor="middle" textLength="21.8" lengthAdjust="spacingAndGlyphs">10:00</text>
<text x="1180.3" y="751.7" font-size="9" fill="#2a2a38" text-anchor="middle" textLength="21.8" lengthAdjust="spacingAndGlyphs">14:00</text>
<text x="1220.3" y="751.7" font-size="9" fill="#2a2a38" text-anchor="middle" textLength="21.8" lengthAdjust="spacingAndGlyphs">10:00</text>
<text x="1272.3" y="751.7" font-size="9" fill="#2a2a38" text-anchor="middle" textLength="21.8" lengthAdjust="spacingAndGlyphs">14:00</text>
<text x="1311.3" y="751.7" font-size="9" fill="#2a2a38" text-anchor="middle" textLength="21.8" lengthAdjust="spacingAndGlyphs">10:00</text>
<text x="1363.3" y="751.7" font-size="9" fill="#2a2a38" text-anchor="middle" textLength="21.8" lengthAdjust="spacingAndGlyphs">14:00</text>
<text x="1402.3" y="751.7" font-size="9" fill="#2a2a38" text-anchor="middle" textLength="21.8" lengthAdjust="spacingAndGlyphs">10:00</text>
<text x="1442.3" y="751.7" font-size="9" fill="#2a2a38" text-anchor="middle" textLength="21.8" lengthAdjust="spacingAndGlyphs">15:00</text>
<text x="1481.3" y="751.7" font-size="9" fill="#2a2a38" text-anchor="middle" textLength="21.8" lengthAdjust="spacingAndGlyphs">10:00</text>
<text x="1533.3" y="751.7" font-size="9" fill="#2a2a38" text-anchor="middle" textLength="21.8" lengthAdjust="spacingAndGlyphs">14:00</text>
<text x="40.3" y="762.5" font-size="8.9" fill="#111" font-weight="bold" text-anchor="middle" textLength="47" lengthAdjust="spacingAndGlyphs">Nov 23 23</text>
<text x="108.8" y="762.5" font-size="8.9" fill="#111" font-weight="bold" text-anchor="middle" textLength="47" lengthAdjust="spacingAndGlyphs">Nov 24 23</text>
<text x="193.8" y="762.5" font-size="8.9" fill="#111" font-weight="bold" text-anchor="middle" textLength="47" lengthAdjust="spacingAndGlyphs">Nov 27 23</text>
<text x="285.3" y="762.5" font-size="8.9" fill="#111" font-weight="bold" text-anchor="middle" textLength="47" lengthAdjust="spacingAndGlyphs">Nov 28 23</text>
<text x="376.8" y="762.5" font-size="8.9" fill="#111" font-weight="bold" text-anchor="middle" textLength="47" lengthAdjust="spacingAndGlyphs">Nov 29 23</text>
<text x="467.8" y="762.5" font-size="8.9" fill="#111" font-weight="bold" text-anchor="middle" textLength="47" lengthAdjust="spacingAndGlyphs">Nov 30 23</text>
<text x="552.8" y="762.5" font-size="8.9" fill="#111" font-weight="bold" text-anchor="middle" textLength="47" lengthAdjust="spacingAndGlyphs">Dec 01 23</text>
<text x="637.8" y="762.5" font-size="8.9" fill="#111" font-weight="bold" text-anchor="middle" textLength="47" lengthAdjust="spacingAndGlyphs">Dec 04 23</text>
<text x="729.3" y="762.5" font-size="8.9" fill="#111" font-weight="bold" text-anchor="middle" textLength="47" lengthAdjust="spacingAndGlyphs">Dec 05 23</text>
<text x="820.8" y="762.5" font-size="8.9" fill="#111" font-weight="bold" text-anchor="middle" textLength="47" lengthAdjust="spacingAndGlyphs">Dec 06 23</text>
<text x="911.8" y="762.5" font-size="8.9" fill="#111" font-weight="bold" text-anchor="middle" textLength="47" lengthAdjust="spacingAndGlyphs">Dec 07 23</text>
<text x="996.8" y="762.5" font-size="8.9" fill="#111" font-weight="bold" text-anchor="middle" textLength="47" lengthAdjust="spacingAndGlyphs">Dec 08 23</text>
<text x="1081.8" y="762.5" font-size="8.9" fill="#111" font-weight="bold" text-anchor="middle" textLength="47" lengthAdjust="spacingAndGlyphs">Dec 11 23</text>
<text x="1173.3" y="762.5" font-size="8.9" fill="#111" font-weight="bold" text-anchor="middle" textLength="47" lengthAdjust="spacingAndGlyphs">Dec 12 23</text>
<text x="1264.8" y="762.5" font-size="8.9" fill="#111" font-weight="bold" text-anchor="middle" textLength="47" lengthAdjust="spacingAndGlyphs">Dec 13 23</text>
<text x="1355.8" y="762.5" font-size="8.9" fill="#111" font-weight="bold" text-anchor="middle" textLength="47" lengthAdjust="spacingAndGlyphs">Dec 14 23</text>
<text x="1440.8" y="762.5" font-size="8.9" fill="#111" font-weight="bold" text-anchor="middle" textLength="47" lengthAdjust="spacingAndGlyphs">Dec 15 23</text>
<text x="1515.3" y="762.5" font-size="8.9" fill="#111" font-weight="bold" text-anchor="middle" textLength="47" lengthAdjust="spacingAndGlyphs">Dec 18 23</text>
<g shape-rendering="crispEdges">
<rect x="0" y="764" width="1598" height="2.5" fill="#e6e6e6"/>
<rect x="0" y="0" width="1600" height="2" fill="#8e8e8e"/>
<rect x="0" y="0" width="2" height="770" fill="#9c9c9c"/>
<rect x="1598" y="0" width="2" height="770" fill="#4c4c4c"/>
<rect x="0" y="768" width="1600" height="2" fill="#424242"/>
</g>
</svg></body></html>
